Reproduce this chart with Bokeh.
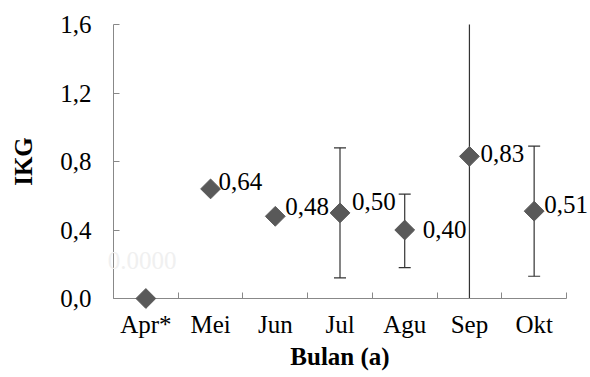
import numpy as np
from bokeh.plotting import figure
from bokeh.models import (ColumnDataSource, FixedTicker, CustomJSTickFormatter, Range1d)
from bokeh.core.properties import value
from bokeh.embed import file_html
from bokeh.resources import INLINE

# ---- data ----
months = ["Apr*", "Mei", "Jun", "Jul", "Agu", "Sep", "Okt"]
ikg = [0.0, 0.64, 0.48, 0.50, 0.40, 0.83, 0.51]
err_upper = [np.nan, np.nan, np.nan, 0.88, 0.61, 1.75, 0.89]
err_lower = [np.nan, np.nan, np.nan, 0.12, 0.18, -0.10, 0.13]
point_labels = ["0.0000", "0,64", "0,48", "0,50", "0,40", "0,83", "0,51"]
y_ticks = [0.0, 0.4, 0.8, 1.2, 1.6]

# ---- styles ----
label_colors = ["#f0f0f0", "#000000", "#000000", "#000000", "#000000", "#000000", "#000000"]
label_dx = [-38, 8, 10, 12, 18, 11, 10]
label_dy = [-38, -7, -10, -11, -1, -3, -7]
FONT = "Liberation Serif"
AXIS_GRAY = "#888888"
MARK = "#595959"
ERR = "#333333"

n = len(months)
xc = np.arange(n) + 0.5
bounds = list(np.arange(0, n + 1).astype(float))

src = ColumnDataSource(dict(
    x=xc, y=ikg, up=err_upper, lo=err_lower, lab=point_labels,
    col=label_colors, dx=label_dx, dy=label_dy,
))

p = figure(width=590, height=377, output_backend="svg", toolbar_location=None,
           x_range=Range1d(0, n), y_range=Range1d(0, 1.6),
           min_border_left=113, min_border_right=24, min_border_top=24, min_border_bottom=79)
p.outline_line_color = None
p.xgrid.visible = False
p.ygrid.visible = False
p.background_fill_color = "white"
p.border_fill_color = "white"

# error bars
p.segment(x0="x", y0="lo", x1="x", y1="up", source=src, line_color=ERR, line_width=1.2)
p.scatter(x="x", y="up", source=src, marker="dash", size=12, line_color=ERR, line_width=1.2)
p.scatter(x="x", y="lo", source=src, marker="dash", size=12, line_color=ERR, line_width=1.2)

# markers
r = p.scatter(x="x", y="y", source=src, marker="square", angle=np.pi / 4, size=14,
              fill_color=MARK, line_color=MARK)
r.level = "overlay"

# labels
t = p.text(x="x", y="y", text="lab", source=src, x_offset="dx", y_offset="dy",
           text_font=value(FONT), text_font_size="25px", text_color="col",
           text_align="left", text_baseline="middle")
t.level = "overlay"

# x axis
xa = p.xaxis[0]
xa.ticker = FixedTicker(ticks=list(xc), minor_ticks=bounds)
xa.formatter = CustomJSTickFormatter(args=dict(names=months),
                                     code="return names[Math.floor(tick)];")
xa.major_tick_in = 0
xa.major_tick_out = 0
xa.minor_tick_in = 6
xa.minor_tick_out = 0
xa.minor_tick_line_color = AXIS_GRAY
xa.axis_line_color = AXIS_GRAY
xa.major_label_text_font = FONT
xa.major_label_text_font_size = "25px"
xa.major_label_text_color = "black"
xa.major_label_standoff = 12
xa.axis_label = "Bulan (a)"
xa.axis_label_text_font = FONT
xa.axis_label_text_font_size = "25px"
xa.axis_label_text_font_style = "bold"
xa.axis_label_text_color = "black"
xa.axis_label_standoff = 2

# y axis
ya = p.yaxis[0]
ya.ticker = FixedTicker(ticks=y_ticks, minor_ticks=[])
ya.formatter = CustomJSTickFormatter(code="return tick.toFixed(1).replace('.', ',');")
ya.major_tick_in = 6
ya.major_tick_out = 0
ya.major_tick_line_color = AXIS_GRAY
ya.axis_line_color = AXIS_GRAY
ya.major_label_text_font = FONT
ya.major_label_text_font_size = "25px"
ya.major_label_text_color = "black"
ya.major_label_standoff = 22
ya.axis_label = "IKG"
ya.axis_label_text_font = FONT
ya.axis_label_text_font_size = "25px"
ya.axis_label_text_font_style = "bold"
ya.axis_label_text_color = "black"
ya.axis_label_standoff = 20

open("out.html", "w").write(file_html(p, INLINE))
